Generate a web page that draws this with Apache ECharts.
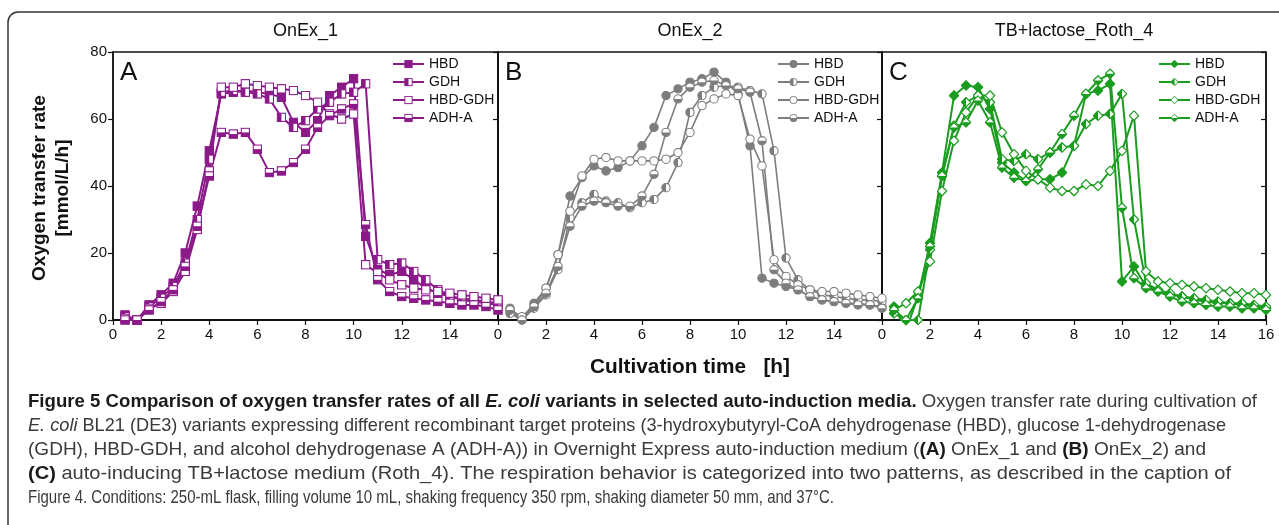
<!DOCTYPE html>
<html>
<head>
<meta charset="utf-8">
<script src="https://cdn.jsdelivr.net/npm/echarts@6/dist/echarts.min.js"></script>
<style>
  html, body { margin: 0; padding: 0; background: #fff; }
  #chart { width: 1279px; height: 525px; }
</style>
</head>
<body>
<div id="chart"></div>
<script>
// sampling times [h], shared by all panels
const times = [0.5, 1, 1.5, 2, 2.5, 3, 3.5, 4, 4.5, 5, 5.5, 6, 6.5, 7, 7.5, 8,
  8.5, 9, 9.5, 10, 10.5, 11, 11.5, 12, 12.5, 13, 13.5, 14, 14.5, 15, 15.5, 16];

const seriesNames = ["HBD", "GDH", "HBD-GDH", "ADH-A"];
const panelTitles = ["OnEx_1", "OnEx_2", "TB+lactose_Roth_4"];
const panelLetters = ["A", "B", "C"];
const xTicks = [0, 16, 2];
const yTicks = [0, 80, 20];

// A: OnEx_1
const onex1HBD = [1.5, 0, 4.5, 7.5, 11, 20, 34, 50.5, 67.5, 68, 68.5, 68, 67.5, 66.5, 59, 56,
  59.5, 67, 69.5, 72, 25, 15, 13.5, 14.5, 12, 9.5, 8, 7, 6, 5.5, 5, 4.5];
const onex1GDH = [1, 0, 4, 6.5, 10, 17, 30, 48, 68, 68.5, 68, 67.5, 66, 60.5, 57.5, 59.5,
  63, 65, 67.5, 68, 70.5, 18, 16.5, 17, 14.5, 12, 9, 7, 6.5, 6, 5.5, 5];
const onex1HBDGDH = [0.5, 0, 3.5, 5, 8.5, 14.5, 27, 44.5, 69.5, 69.5, 70.5, 70, 69.5, 69, 68.5, 67,
  65, 61.5, 60, 61.5, 16.5, 14, 12, 10.5, 9.5, 9, 8.5, 8, 7.5, 7, 6.5, 6];
const onex1ADHA = [0, 0, 3, 5.5, 9, 16, 28, 43, 56, 55.5, 56, 51, 44, 44.5, 47, 51,
  57.5, 61, 63, 64.5, 28.5, 12, 8.5, 7, 6.5, 6, 5.5, 5, 4.5, 4.5, 4, 3];

// B: OnEx_2
const onex2HBD = [3.5, 0.5, 5, 9.5, 19.5, 37, 42.5, 46, 44.5, 45.5, 47.5, 52, 57.5, 67, 69, 71,
  72, 74, 71, 67.5, 52, 12.5, 11, 10, 9, 7, 6, 5.5, 5, 5, 4.5, 4];
const onex2GDH = [2, 0, 3.5, 7.5, 15, 30.5, 35, 37.5, 35.5, 35, 33.5, 35, 36, 39.5, 47, 62,
  67, 69.5, 70, 69.5, 68.5, 67.5, 50.5, 18.5, 12, 9, 7.5, 7, 6.5, 6, 6, 5.5];
const onex2HBDGDH = [3, 1, 4, 9.5, 19.5, 32.5, 43, 48, 48.5, 47.5, 47.5, 47.5, 47.5, 48, 50, 56,
  64, 66, 67.5, 67, 54, 46, 18, 13, 10.5, 9, 8.5, 8.5, 8, 7.5, 7, 6.5];
const onex2ADHA = [3, 0, 4, 8, 16, 28, 34, 35.5, 35, 34, 34, 37, 43.5, 56, 66, 69.5,
  71, 71.5, 70, 69, 68, 53.5, 15, 11, 9, 7, 6, 5.5, 5, 4.5, 4.5, 3.5];

// C: TB+lactose_Roth_4
const rothHBD = [4, -3, 7, 23, 44, 67, 70, 69.5, 63, 47, 44, 41.5, 42, 42, 44, 52,
  67.5, 68.5, 70.5, 11.5, 16, 10, 9, 7.5, 7, 6, 5.5, 5, 5, 4.5, 4, 3.5];
const rothGDH = [2, 0, 0, 21, 43, 58, 65, 67, 65, 48, 47.5, 49.5, 48, 50, 51.5, 52,
  58.5, 61, 61.5, 67.5, 30, 11, 9, 8, 7, 6.5, 6, 5.5, 5, 5, 4.5, 4];
const rothHBDGDH = [3, 5, 8.5, 17.5, 38.5, 53.5, 62, 67, 67, 56, 49.5, 44.5, 42, 39.5, 38.5, 38.5,
  40.5, 40, 44.5, 50.5, 61, 14.5, 11.5, 11, 10.5, 10, 9.5, 9, 8.5, 8, 8, 7.5];
const rothADHA = [3, 0, 6.5, 22, 43, 57.5, 59, 65.5, 59, 45.5, 42.5, 41.5, 45, 50, 55.5, 61,
  67.5, 71.5, 73.5, 33.5, 12.5, 9.5, 8.5, 7, 5.5, 5, 4.5, 4, 4, 3.5, 3.5, 3];

const panelValues = [
  [onex1HBD, onex1GDH, onex1HBDGDH, onex1ADHA],
  [onex2HBD, onex2GDH, onex2HBDGDH, onex2ADHA],
  [rothHBD, rothGDH, rothHBDGDH, rothADHA]
];

const colors = ["#8b1a89", "#7d7d7d", "#1a9c1f"];
const shapes = ["rect", "circle", "diamond"];
const sans = "'Liberation Sans', Arial, sans-serif";

// two-tone marker as svg image; fill: full | left | open | bottom
function marker(shape, fill, c) {
  let outline, half = "";
  if (shape === "rect") {
    outline = `<rect x="1" y="1" width="10" height="10" fill="${fill === "full" ? c : "#fff"}" stroke="${c}" stroke-width="1.4"/>`;
    if (fill === "left") half = `<rect x="1" y="1" width="5" height="10" fill="${c}"/>`;
    if (fill === "bottom") half = `<rect x="1" y="6" width="10" height="5" fill="${c}"/>`;
  } else if (shape === "circle") {
    outline = `<circle cx="6" cy="6" r="5" fill="${fill === "full" ? c : "#fff"}" stroke="${c}" stroke-width="1.3"/>`;
    if (fill === "left") half = `<path d="M6 1 A5 5 0 0 0 6 11 Z" fill="${c}"/>`;
    if (fill === "bottom") half = `<path d="M1 6 A5 5 0 0 0 11 6 Z" fill="${c}"/>`;
  } else {
    outline = `<polygon points="6,0.8 11.2,6 6,11.2 0.8,6" fill="${fill === "full" ? c : "#fff"}" stroke="${c}" stroke-width="1.3"/>`;
    if (fill === "left") half = `<polygon points="6,0.8 0.8,6 6,11.2" fill="${c}"/>`;
    if (fill === "bottom") half = `<polygon points="0.8,6 11.2,6 6,11.2" fill="${c}"/>`;
  }
  const svg = `<svg xmlns="http://www.w3.org/2000/svg" width="12" height="12" viewBox="0 0 12 12">${outline}${half}</svg>`;
  return "image://data:image/svg+xml;charset=utf-8," + encodeURIComponent(svg);
}

// text width helper, used to squeeze text into a condensed look
const ctx = document.createElement("canvas").getContext("2d");
function textWidth(parts) {
  return parts.reduce((w, [font, s]) => { ctx.font = font; return w + ctx.measureText(s).width; }, 0);
}

const fills = ["full", "left", "open", "bottom"];
const grids = [
  { left: 113, top: 52, width: 385, height: 268 },
  { left: 498, top: 52, width: 384, height: 268 },
  { left: 882, top: 52, width: 384, height: 268 }
];
const legendLeft = [392, 777, 1158];

const chart = echarts.init(document.getElementById("chart"));

const xAxes = [], yAxes = [], series = [], legends = [];
grids.forEach((g, p) => {
  xAxes.push({
    type: "value", gridIndex: p, min: xTicks[0], max: xTicks[1], interval: xTicks[2],
    axisLine: { lineStyle: { color: "#111", width: 2 } },
    axisTick: { inside: false, length: 5, lineStyle: { color: "#111", width: 1.2 } },
    axisLabel: { color: "#111", fontSize: 15, fontFamily: sans, margin: 7, showMaxLabel: p === 2 },
    splitLine: { show: false }
  });
  yAxes.push({
    type: "value", gridIndex: p, min: yTicks[0], max: yTicks[1], interval: yTicks[2],
    axisLine: { show: true, lineStyle: { color: "#111", width: 1.5 } },
    axisTick: { show: p === 0, length: 5, lineStyle: { color: "#111", width: 1.2 } },
    axisLabel: { show: p === 0, color: "#111", fontSize: 15, fontFamily: sans, margin: 6 },
    splitLine: { show: false }
  });
  yAxes.push({
    type: "value", gridIndex: p, position: "right", min: yTicks[0], max: yTicks[1], interval: yTicks[2],
    axisLine: { show: true, lineStyle: { color: "#111", width: 1.5 } },
    axisTick: { show: true, inside: true, length: 5, lineStyle: { color: "#111", width: 1.2 } },
    axisLabel: { show: false },
    splitLine: { show: false }
  });
  const names = [];
  seriesNames.forEach((n, k) => {
    const name = n + " ".repeat(p); // keep names unique per panel
    names.push(name);
    const c = colors[p];
    series.push({
      name, type: "line", xAxisIndex: p, yAxisIndex: p * 2,
      data: times.map((t, i) => [t, panelValues[p][k][i]]),
      symbol: marker(shapes[p], fills[k], c),
      symbolSize: shapes[p] === "diamond" ? 11 : 10,
      showAllSymbol: true,
      clip: true,
      lineStyle: { color: c, width: p === 1 ? 1.6 : 2 },
      itemStyle: { color: c },
      emphasis: { disabled: true },
      animation: false
    });
  });
  legends.push({
    data: names, orient: "vertical", left: legendLeft[p], top: 57, padding: 0,
    itemWidth: 31, itemHeight: 11, itemGap: 4,
    selectedMode: false,
    formatter: (name) => name.trim(),
    textStyle: { fontSize: 14, fontFamily: sans, color: "#111" }
  });
});

const xTitle = "Cultivation time   [h]";
const xTitleFont = "bold 20px " + sans;
const xTitleScale = 200 / textWidth([[xTitleFont, xTitle]]);

const graphic = [
  { type: "rect", shape: { x: 8, y: 12, width: 1310, height: 560, r: 10 },
    style: { fill: "none", stroke: "#333", lineWidth: 1.5 }, z: -1 },
  { type: "text", x: 40, y: 188, rotation: Math.PI / 2,
    style: { text: "Oxygen transfer rate", font: "bold 19px " + sans, fill: "#111",
      align: "center", verticalAlign: "middle", textAlign: "center", textVerticalAlign: "middle" } },
  { type: "text", x: 63, y: 188, rotation: Math.PI / 2,
    style: { text: "[mmol/L/h]", font: "bold 19px " + sans, fill: "#111",
      align: "center", verticalAlign: "middle", textAlign: "center", textVerticalAlign: "middle" } },
  { type: "text", x: 590, y: 367, scaleX: xTitleScale,
    style: { text: xTitle, font: xTitleFont, fill: "#111",
      align: "left", verticalAlign: "middle", textAlign: "left", textVerticalAlign: "middle" } }
];
grids.forEach((g, p) => {
  graphic.push({ type: "text", x: g.left + g.width / 2, y: 31,
    style: { text: panelTitles[p], font: "18px " + sans, fill: "#111",
      align: "center", verticalAlign: "middle", textAlign: "center", textVerticalAlign: "middle" } });
  graphic.push({ type: "text", x: g.left + 7, y: 73,
    style: { text: panelLetters[p], font: "26px " + sans, fill: "#111",
      align: "left", verticalAlign: "middle", textAlign: "left", textVerticalAlign: "middle" } });
});

// caption
const capFonts = {
  n: "19px " + sans,
  i: "italic 19px " + sans,
  b: "bold 19px " + sans,
  bi: "italic bold 19px " + sans
};
const capColors = { n: "#3a3a3a", i: "#3a3a3a", b: "#1a1a1a", bi: "#1a1a1a" };
const capRich = {};
Object.keys(capFonts).forEach(k => { capRich[k] = { font: capFonts[k], fill: capColors[k], color: capColors[k] }; });

const captionLines = [
  [["b", "Figure 5 Comparison of oxygen transfer rates of all "], ["bi", "E. coli"], ["b", " variants in selected auto-induction media."], ["n", " Oxygen transfer rate during cultivation of"]],
  [["i", "E. coli"], ["n", " BL21 (DE3) variants expressing different recombinant target proteins (3-hydroxybutyryl-CoA dehydrogenase (HBD), glucose 1-dehydrogenase"]],
  [["n", "(GDH), HBD-GDH, and alcohol dehydrogenase A (ADH-A)) in Overnight Express auto-induction medium ("], ["b", "(A)"], ["n", " OnEx_1 and "], ["b", "(B)"], ["n", " OnEx_2) and"]],
  [["b", "(C)"], ["n", " auto-inducing TB+lactose medium (Roth_4). The respiration behavior is categorized into two patterns, as described in the caption of"]],
  [["n", "Figure 4. Conditions: 250-mL flask, filling volume 10 mL, shaking frequency 350 rpm, shaking diameter 50 mm, and 37°C."]]
];
const captionY = [402, 426, 450, 474, 498];
const captionEnd = [1257, 1226, 1206, 1231, 834];
captionLines.forEach((parts, i) => {
  const w = textWidth(parts.map(([k, s]) => [capFonts[k], s]));
  const text = parts.map(([k, s]) => "{" + k + "|" + s + "}").join("");
  graphic.push({ type: "text", x: 28, y: captionY[i], scaleX: (captionEnd[i] - 28) / w,
    style: { text, rich: capRich, font: capFonts.n, fill: "#3a3a3a",
      align: "left", verticalAlign: "middle", textAlign: "left", textVerticalAlign: "middle" } });
});

chart.setOption({
  animation: false,
  grid: grids.map(g => Object.assign({ show: true, borderColor: "#111", borderWidth: 1.5, backgroundColor: "#fff" }, g)),
  xAxis: xAxes,
  yAxis: yAxes,
  legend: legends,
  series: series,
  graphic: graphic
});
</script>
</body>
</html>
